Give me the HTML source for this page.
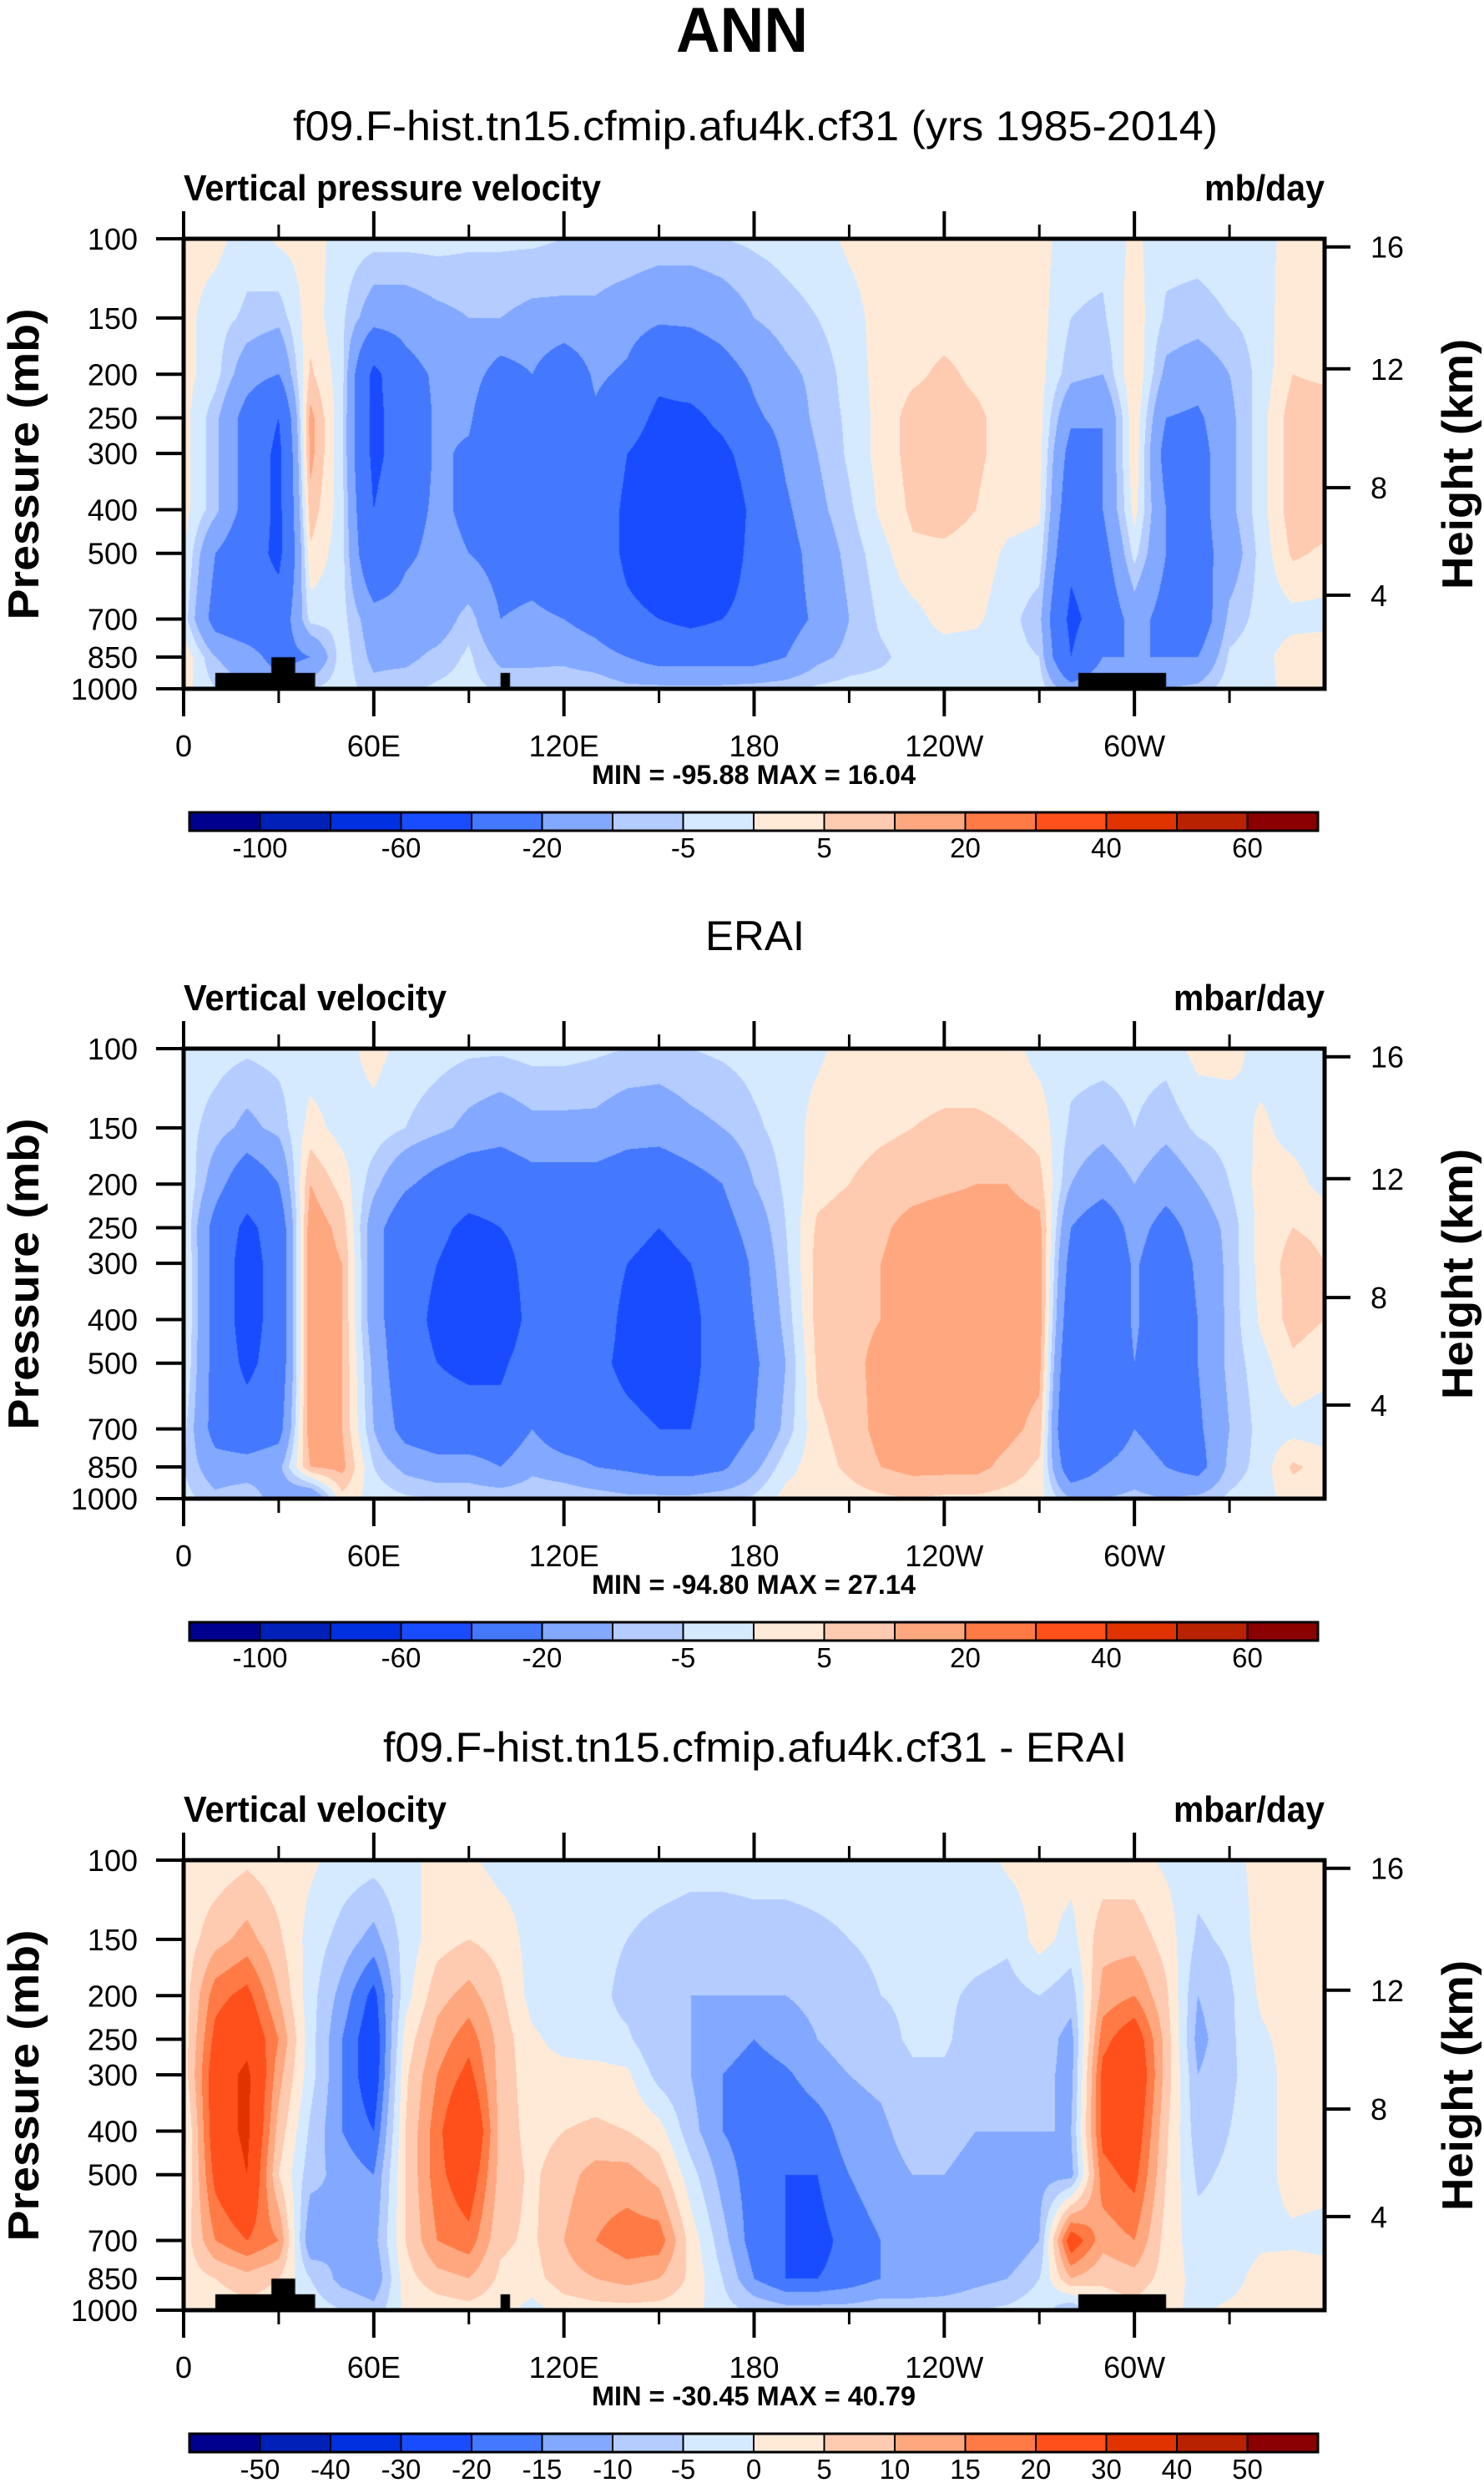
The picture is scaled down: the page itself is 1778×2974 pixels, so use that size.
<!DOCTYPE html>
<html><head><meta charset="utf-8">
<style>
html,body{margin:0;padding:0;background:#fff;}
body{width:1778px;height:2974px;position:relative;overflow:hidden;}
canvas{position:absolute;}
svg{position:absolute;left:0;top:0;}
text{font-family:"Liberation Sans",Arial,sans-serif;fill:#000;}
</style></head>
<body>
<canvas id="c0" width="1367" height="539" style="left:220px;top:286px"></canvas>
<canvas id="c1" width="1367" height="539" style="left:220px;top:1256px"></canvas>
<canvas id="c2" width="1367" height="539" style="left:220px;top:2228px"></canvas>
<svg id="svg" width="1778" height="2974" xmlns="http://www.w3.org/2000/svg"></svg>
<script>
// ---- data ----
const lons = [0,10,20,30,40,50,60,70,80,90,100,110,120,130,140,150,160,170,180,190,200,210,220,230,240,250,260,270,280,290,300,310,320,330,340,350,360];
const pLevels = [100,150,200,250,300,400,500,700,850,1000];
const levelsAbs = [-100,-80,-60,-40,-20,-10,-5,0,5,10,20,30,40,50,60];
const levelsDiff = [-50,-40,-30,-20,-15,-10,-5,0,5,10,15,20,30,40,50];
const absLabels = ["-100","-60","-20","-5","5","20","40","60"];
const diffLabels = ["-50","-40","-30","-20","-15","-10","-5","0","5","10","15","20","30","40","50"];
const colors = ["#00008f","#0020b8","#0030e0","#1a4cff","#4478ff","#82a8ff","#b4ccff","#d6eaff","#ffead8","#ffcbb0","#ffa880","#ff7a45","#ff4f1a","#e03300","#b82200","#8b0000"];
const pTicks = ["100","150","200","250","300","400","500","700","850","1000"];
const hTicks = ["16","12","8","4"];
const hTickFrac = [0.018,0.289,0.553,0.792];
const lonTickLabels = ["0","60E","120E","180","120W","60W"];
const lonTickVals = [0,60,120,180,240,300];
const lonMinor = [30,90,150,210,270,330];

const modelOmega = [
[2,2,2,2,2,2,1,-2,4,2],
[2,-3,-3,-8,-8,-8,-20,-25,-10,-5],
[-3,-6,-15,-25,-25,-25,-30,-30,-15,-10],
[1,-8,-20,-40,-45,-45,-45,-30,-25,-15],
[2,3,6,12,12,8,4,-3,-20,-5],
[-2,-4,-3,-4,-4,-3,-3,-3,-2,-2],
[-3,-15,-45,-45,-45,-40,-35,-15,-12,-8],
[-3,-15,-25,-30,-30,-25,-22,-15,-12,-6],
[-3,-12,-18,-18,-18,-18,-17,-15,-8,-4],
[-4,-10,-15,-18,-22,-22,-20,-7,-4,-3],
[-4,-10,-25,-35,-35,-30,-25,-20,-12,-6],
[-4,-12,-20,-35,-35,-30,-25,-18,-12,-6],
[-5,-12,-30,-30,-30,-30,-30,-20,-12,-5],
[-5,-12,-18,-22,-22,-25,-25,-25,-15,-5],
[-5,-15,-22,-30,-40,-45,-45,-35,-20,-8],
[-6,-18,-35,-45,-50,-55,-55,-40,-25,-8],
[-6,-18,-30,-45,-50,-55,-60,-45,-25,-8],
[-5,-15,-25,-35,-45,-55,-50,-40,-25,-8],
[-4,-10,-18,-22,-30,-35,-35,-35,-25,-7],
[-3,-7,-12,-16,-18,-22,-25,-25,-20,-6],
[-2,-5,-8,-8,-10,-12,-15,-18,-12,-4],
[1,-2,-3,-4,-4,-6,-8,-10,-8,-3],
[2,2,2,2,2,1,-2,-4,-6,-3],
[2,3,4,7,7,6,4,-2,-3,-3],
[2,3,6,7,7,7,4,2,-3,-3],
[2,3,4,6,6,5,3,1,-3,-3],
[2,2,3,3,3,2,-1,-3,-3,-3],
[2,2,2,2,2,1,-2,-8,-5,-2],
[-3,-5,-8,-18,-25,-30,-35,-45,-40,-15],
[-3,-6,-10,-20,-20,-20,-25,-30,-20,-10],
[1,3,5,4,4,2,-3,-15,-20,-10],
[-3,-6,-12,-20,-25,-20,-20,-25,-20,-10],
[-3,-7,-15,-22,-25,-25,-25,-30,-20,-8],
[-2,-5,-10,-12,-12,-12,-15,-8,-4,-2],
[-1,-3,-3,-2,-2,-2,-3,-3,-2,-2],
[1,4,5,8,8,8,6,-2,3,2],
[2,3,4,8,10,8,4,-2,4,2]
];
const eraiOmega = [
[-3,-3,1,1,2,2,1,-3,-5,-3],
[-3,-7,-15,-25,-25,-25,-25,-25,-15,-8],
[-4,-12,-30,-45,-50,-50,-45,-30,-15,-5],
[-3,-8,-20,-30,-30,-30,-30,-25,-12,-15],
[-3,2,10,14,14,14,14,14,10,-20],
[-2,-2,3,8,10,10,10,10,12,3],
[2,-2,-8,-15,-15,-15,-12,-10,-5,-2],
[-2,-5,-18,-30,-30,-30,-30,-25,-12,-4],
[-3,-8,-25,-35,-40,-45,-40,-30,-15,-5],
[-4,-12,-30,-45,-50,-55,-45,-30,-15,-5],
[-4,-15,-30,-40,-50,-60,-45,-30,-20,-5],
[-3,-12,-25,-30,-30,-30,-25,-20,-12,-5],
[-3,-12,-25,-30,-30,-30,-30,-30,-15,-5],
[-4,-12,-25,-30,-30,-30,-35,-30,-20,-6],
[-5,-15,-28,-35,-40,-45,-45,-35,-22,-8],
[-6,-15,-30,-40,-45,-50,-50,-40,-25,-8],
[-5,-12,-25,-35,-40,-45,-45,-40,-25,-8],
[-4,-10,-20,-25,-30,-30,-30,-30,-22,-6],
[-3,-6,-10,-15,-18,-20,-22,-20,-12,-4],
[-2,-3,-4,-5,-6,-8,-10,-8,-2,2],
[-1,2,3,6,7,7,6,4,3,2],
[2,3,5,8,8,8,8,7,6,3],
[2,4,7,9,10,10,12,12,10,4],
[2,5,8,12,13,13,13,12,12,5],
[2,6,9,13,14,14,14,14,12,4],
[2,6,10,13,14,14,14,14,12,4],
[2,5,10,13,14,14,13,12,8,3],
[-2,3,7,12,13,13,12,8,4,2],
[-3,-6,-10,-20,-25,-30,-35,-40,-30,-10],
[-3,-8,-15,-30,-35,-35,-35,-30,-20,-10],
[-3,-5,-10,-15,-18,-18,-20,-20,-15,-8],
[-3,-8,-15,-25,-30,-30,-30,-25,-20,-10],
[2,-4,-10,-15,-18,-20,-20,-22,-25,-8],
[2,-3,-5,-8,-8,-8,-8,-10,-8,-4],
[-2,1,2,2,2,1,-2,-3,-3,-2],
[-2,-2,2,5,7,7,4,-2,6,2],
[-3,-3,-2,4,5,5,2,-3,3,2]
];
const diffOmega = [
[2,2,2,2,2,-2,-1,2,2,2],
[2,8,18,22,25,25,22,15,5,2],
[4,12,22,27,32,32,30,20,8,3],
[2,6,10,15,12,8,5,15,5,2],
[1,-2,-3,-3,-3,-6,-8,-15,-5,-2],
[-2,-7,-12,-15,-15,-15,-12,-10,-12,-5],
[-3,-12,-22,-25,-25,-20,-15,-12,-15,-8],
[-1,-3,-2,2,4,5,5,5,3,1],
[1,3,8,12,15,18,18,15,8,2],
[1,5,12,18,22,30,25,18,10,3],
[-2,3,6,8,8,8,8,6,4,2],
[-2,-2,-2,1,2,3,4,4,3,-2],
[-2,-3,-3,-2,2,5,8,10,8,2],
[-2,-3,-3,-3,2,6,12,15,10,3],
[-2,-5,-7,-4,1,5,12,18,12,3],
[-2,-7,-10,-10,-7,2,8,18,10,3],
[-3,-8,-10,-10,-10,-8,-3,3,4,2],
[-3,-8,-10,-12,-15,-15,-12,-8,-5,-3],
[-3,-7,-10,-15,-18,-18,-18,-18,-15,-6],
[-3,-7,-10,-12,-16,-20,-20,-20,-20,-8],
[-3,-6,-9,-10,-12,-18,-20,-22,-20,-8],
[-3,-5,-7,-8,-10,-12,-15,-18,-18,-8],
[-3,-4,-5,-7,-9,-11,-12,-15,-15,-7],
[-3,-3,-4,-4,-6,-8,-10,-12,-15,-7],
[-3,-3,-4,-4,-6,-8,-10,-15,-15,-6],
[-3,-3,-6,-8,-8,-10,-12,-15,-12,-5],
[1,-4,-7,-8,-9,-10,-12,-15,-10,-4],
[2,2,-5,-7,-8,-10,-12,-10,-5,-2],
[2,-2,-8,-12,-12,-10,-12,25,10,-10],
[2,8,12,18,22,22,18,12,6,2],
[2,8,15,25,28,25,22,15,8,3],
[-1,3,6,8,8,6,5,3,3,1],
[-3,-6,-10,-12,-10,-8,-6,-3,-2,-1],
[-2,-4,-6,-6,-6,-5,-4,-3,-2,1],
[2,2,1,-1,-2,-2,-2,-1,2,2],
[2,3,3,2,2,2,2,-1,3,2],
[2,4,3,2,2,2,2,-2,3,2]
];
// land masks: [lonStart, lonEnd, topPressure]
const landMask = [[10,41.5,922],[27.7,35.2,851],[100,103,922],[282.3,310,922]];

const panelTops = [286,1256,2228];
const L=220, W=1367, H=539, R=L+W;
const logLev = pLevels.map(p=>Math.log10(p));

function colorIdx(v, lev){ let i=0; while(i<lev.length && v>=lev[i]) i++; return i; }
function hex(c){return [parseInt(c.substr(1,2),16),parseInt(c.substr(3,2),16),parseInt(c.substr(5,2),16)];}
const rgb = colors.map(hex);

function drawField(id, field, lev, mask){
  const cv=document.getElementById(id), ctx=cv.getContext('2d');
  const img=ctx.createImageData(W,H), d=img.data;
  const rowIdx=[], rowT=[];
  for(let y=0;y<H;y++){
    const lp=2+(y+0.5)/H;
    let k=0; while(k<logLev.length-2 && lp>logLev[k+1]) k++;
    rowIdx.push(k); rowT.push(Math.min(1,Math.max(0,(lp-logLev[k])/(logLev[k+1]-logLev[k]))));
  }
  for(let x=0;x<W;x++){
    const lon=(x+0.5)/W*360;
    let j=Math.min(lons.length-2,Math.floor(lon/10));
    const tx=(lon-lons[j])/10;
    const a=field[j], b=field[j+1];
    for(let y=0;y<H;y++){
      const k=rowIdx[y], t=rowT[y];
      const v0=a[k]+(a[k+1]-a[k])*t, v1=b[k]+(b[k+1]-b[k])*t;
      const v=v0+(v1-v0)*tx;
      const c=rgb[colorIdx(v,lev)];
      const o=(y*W+x)*4; d[o]=c[0];d[o+1]=c[1];d[o+2]=c[2];d[o+3]=255;
    }
  }
  ctx.putImageData(img,0,0);
  if(mask){
    ctx.fillStyle='#000';
    mask.forEach(m=>{
      const x0=m[0]/360*W, x1=m[1]/360*W;
      const y0=(Math.log10(m[2])-2)*H;
      ctx.fillRect(x0,y0,x1-x0,H-y0);
    });
  }
}
drawField('c0',modelOmega,levelsAbs,landMask);
drawField('c1',eraiOmega,levelsAbs,null);
drawField('c2',diffOmega,levelsDiff,landMask);

// ---- SVG overlay ----
const svg=document.getElementById('svg');
const NS='http://www.w3.org/2000/svg';
function mk(tag,attrs,parent){const e=document.createElementNS(NS,tag);for(const k in attrs)e.setAttribute(k,attrs[k]);(parent||svg).appendChild(e);return e;}
function txt(s,attrs,parent){const e=mk('text',attrs,parent);e.textContent=s;return e;}

const t0=txt('ANN',{x:889,y:62,'text-anchor':'middle','font-size':76,'font-weight':'bold',textLength:158,lengthAdjust:'spacingAndGlyphs'});



const panels=[
 {title:'f09.F-hist.tn15.cfmip.afu4k.cf31 (yrs 1985-2014)',tx0:351,tw:1108,left:'Vertical pressure velocity',lw:500,unit:'mb/day',uw:144,minmax:'MIN = -95.88  MAX =  16.04',lev:levelsAbs,labs:absLabels,step:2,name:'model'},
 {title:'ERAI',tx0:845,tw:119,left:'Vertical velocity',lw:315,unit:'mbar/day',uw:181,minmax:'MIN = -94.80  MAX =  27.14',lev:levelsAbs,labs:absLabels,step:2,name:'erai'},
 {title:'f09.F-hist.tn15.cfmip.afu4k.cf31 - ERAI',tx0:459,tw:891,left:'Vertical velocity',lw:315,unit:'mbar/day',uw:181,minmax:'MIN = -30.45  MAX =  40.79',lev:levelsDiff,labs:diffLabels,step:1,name:'difference'}
];

panels.forEach((P,pi)=>{
  const T=panelTops[pi];
  const g=mk('g',{});
  
  
  let e=txt(P.title,{x:P.tx0,y:T-118,'font-size':50,textLength:P.tw,lengthAdjust:'spacingAndGlyphs'},g);
  
  
  e=txt(P.left,{x:L,y:T-46,'font-size':44,'font-weight':'bold',textLength:P.lw,lengthAdjust:'spacingAndGlyphs'},g);
  
  
  e=txt(P.unit,{x:R-P.uw,y:T-46,'font-size':44,'font-weight':'bold',textLength:P.uw,lengthAdjust:'spacingAndGlyphs'},g);
  
  
  e=mk('rect',{x:L,y:T,width:W,height:H,fill:'none',stroke:'#000','stroke-width':5},g);
  
  
  pTicks.forEach((s,i)=>{
    const y=T+(Math.log10(pLevels[i])-2)*H;
    const tk=mk('line',{x1:187,x2:L,y1:y,y2:y,stroke:'#000','stroke-width':4},g);
    
    
    const lb=txt(s,{x:165,y:y+13,'font-size':36,'text-anchor':'end'},g);
    
    
  });
  hTicks.forEach((s,i)=>{
    const y=T+hTickFrac[i]*H;
    const tk=mk('line',{x1:R,x2:R+31,y1:y,y2:y,stroke:'#000','stroke-width':4},g);
    
    
    const lb=txt(s,{x:1642,y:y+13,'font-size':36},g);
    
    
  });
  lonTickVals.forEach((v,i)=>{
    const x=L+v/360*W;
    let tk=mk('line',{x1:x,x2:x,y1:T+H,y2:T+H+33,stroke:'#000','stroke-width':4},g);
    
    
    tk=mk('line',{x1:x,x2:x,y1:T,y2:T-33,stroke:'#000','stroke-width':4},g);
    
    
    const lb=txt(lonTickLabels[i],{x:x,y:T+H+81,'font-size':36,'text-anchor':'middle'},g);
    
    
  });
  lonMinor.forEach(v=>{
    const x=L+v/360*W;
    let tk=mk('line',{x1:x,x2:x,y1:T+H,y2:T+H+17,stroke:'#000','stroke-width':3},g);
    
    
    tk=mk('line',{x1:x,x2:x,y1:T,y2:T-17,stroke:'#000','stroke-width':3},g);
    
    
  });
  e=txt('Pressure (mb)',{x:0,y:0,'font-size':52,'font-weight':'bold',textLength:373,lengthAdjust:'spacingAndGlyphs','text-anchor':'middle',transform:`translate(46,${T+270}) rotate(-90)`},g);
  
  
  e=txt('Height (km)',{x:0,y:0,'font-size':52,'font-weight':'bold',textLength:300,lengthAdjust:'spacingAndGlyphs','text-anchor':'middle',transform:`translate(1764,${T+270}) rotate(-90)`},g);
  
  
  e=txt(P.minmax,{x:709,y:T+653,'font-size':32,'font-weight':'bold',textLength:388,lengthAdjust:'spacingAndGlyphs','xml:space':'preserve'},g);
  
  
  const cbx=227, cbw=1352, cby=T+687, cbh=22, bw=cbw/16;
  colors.forEach((c,i)=>{
    const r=mk('rect',{x:cbx+i*bw,y:cby,width:bw,height:cbh,fill:c,stroke:'#000','stroke-width':2},g);
    
    
  });
  e=mk('rect',{x:cbx,y:cby,width:cbw,height:cbh,fill:'none',stroke:'#000','stroke-width':3},g);
  
  
  P.labs.forEach((s,i)=>{
    const k=i*P.step;
    const x=cbx+bw*(k+1);
    const lb=txt(s,{x:x,y:T+741,'font-size':33,'text-anchor':'middle'},g);
    
    
  });
});
</script>
</body></html>
